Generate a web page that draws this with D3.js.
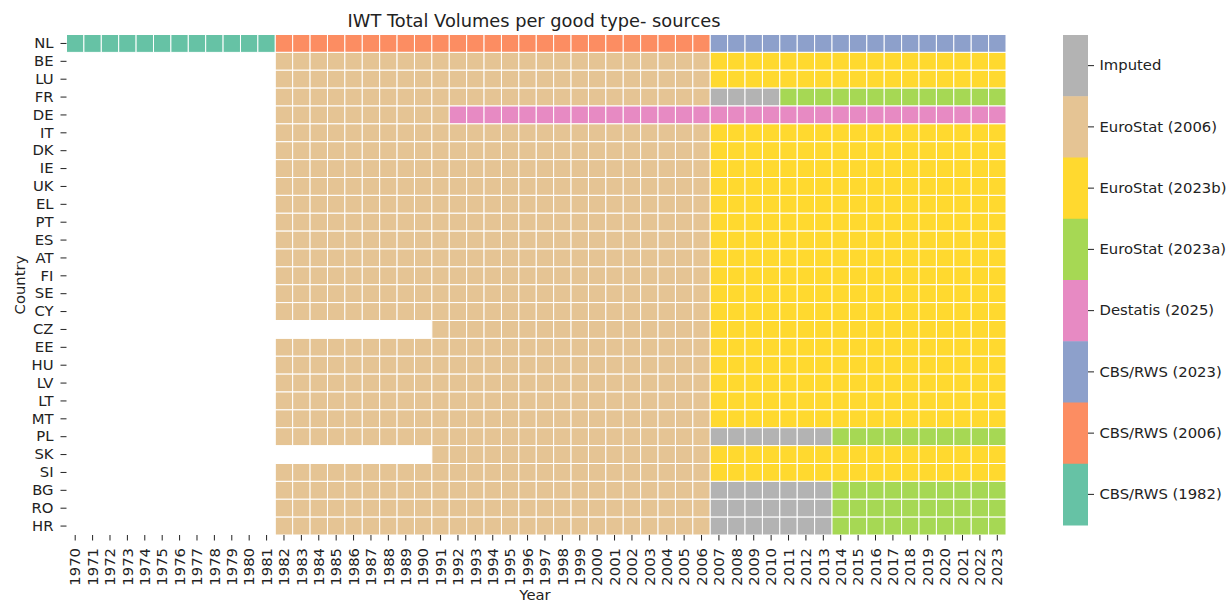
<!DOCTYPE html>
<html>
<head>
<meta charset="utf-8">
<script src="https://cdn.jsdelivr.net/npm/d3@7"></script>
<style>
  html, body { margin: 0; padding: 0; background: #fff; }
  text { font-family: "DejaVu Sans", sans-serif; fill: #222; }
</style>
</head>
<body>
<svg id="chart" width="1231" height="604"></svg>
<script>
// ---------------- DATA ----------------
const years = d3.range(1970, 2024); // 1970..2023 tick labels
const countries = ["NL","BE","LU","FR","DE","IT","DK","IE","UK","EL","PT","ES","AT","FI","SE","CY",
                   "CZ","EE","HU","LV","LT","MT","PL","SK","SI","BG","RO","HR"];
// legend order (top to bottom in colorbar)
const sources = ["Imputed","EuroStat (2006)","EuroStat (2023b)","EuroStat (2023a)",
                 "Destatis (2025)","CBS/RWS (2023)","CBS/RWS (2006)","CBS/RWS (1982)"];
const sourceColors = ["#b3b3b3","#e5c494","#ffd92f","#a6d854","#e78ac3","#8da0cb","#fc8d62","#66c2a5"];

// runs per country: [firstYear, lastYear, source]
const std = [[1982, 2006, "EuroStat (2006)"], [2007, 2023, "EuroStat (2023b)"]];
const late = [[1991, 2006, "EuroStat (2006)"], [2007, 2023, "EuroStat (2023b)"]];
const imputedThenA = [[1982, 2006, "EuroStat (2006)"], [2007, 2013, "Imputed"], [2014, 2023, "EuroStat (2023a)"]];
const rowRuns = {
  NL: [[1970, 1981, "CBS/RWS (1982)"], [1982, 2006, "CBS/RWS (2006)"], [2007, 2023, "CBS/RWS (2023)"]],
  BE: std, LU: std,
  FR: [[1982, 2006, "EuroStat (2006)"], [2007, 2010, "Imputed"], [2011, 2023, "EuroStat (2023a)"]],
  DE: [[1982, 1991, "EuroStat (2006)"], [1992, 2023, "Destatis (2025)"]],
  IT: std, DK: std, IE: std, UK: std, EL: std, PT: std, ES: std, AT: std, FI: std, SE: std, CY: std,
  CZ: late, EE: std, HU: std, LV: std, LT: std, MT: std,
  PL: imputedThenA,
  SK: late, SI: std,
  BG: imputedThenA, RO: imputedThenA, HR: imputedThenA
};

// ---------------- BUILD ----------------
const cells = [];
countries.forEach(c => {
  rowRuns[c].forEach(([a, b, s]) => {
    years.filter(y => y >= a && y <= b).forEach(y => cells.push({country: c, year: y, source: s}));
  });
});

const FS = "14.8px";
const svg = d3.select("#chart");
const x = d3.scaleBand().domain(years).range([66.5, 1006]);
const y = d3.scaleBand().domain(countries).range([34.5, 535]);
const color = d3.scaleOrdinal().domain(sources).range(sourceColors);

svg.append("g").selectAll("rect").data(cells).join("rect")
  .attr("x", d => x(d.year))
  .attr("y", d => y(d.country))
  .attr("width", x.bandwidth())
  .attr("height", y.bandwidth())
  .attr("fill", d => color(d.source))
  .attr("stroke", "#fff")
  .attr("stroke-width", 1);

// Y axis
const gy = svg.append("g").attr("transform", "translate(66.5,0)")
  .call(d3.axisLeft(y).tickSize(6).tickPadding(7));
gy.select(".domain").remove();
gy.selectAll(".tick line").attr("stroke", "#222");
gy.selectAll(".tick text").style("font-size", FS).style("font-family", "DejaVu Sans");

// X axis
const gx = svg.append("g").attr("transform", "translate(0,535)")
  .call(d3.axisBottom(x).tickSize(5.5));
gx.select(".domain").remove();
gx.selectAll(".tick line").attr("stroke", "#222");
gx.selectAll(".tick text")
  .style("font-size", FS).style("font-family", "DejaVu Sans")
  .attr("transform", "rotate(-90)")
  .attr("text-anchor", "end")
  .attr("x", -13)
  .attr("y", 0)
  .attr("dy", "0.35em");

// Title & axis labels
svg.append("text").attr("x", 534).attr("y", 27).attr("text-anchor", "middle")
  .style("font-size", "17.8px").text("IWT Total Volumes per good type- sources");
svg.append("text").attr("x", 535).attr("y", 600).attr("text-anchor", "middle")
  .style("font-size", FS).text("Year");
svg.append("text").attr("transform", "translate(25,285) rotate(-90)").attr("text-anchor", "middle")
  .style("font-size", FS).text("Country");

// Colorbar
const cb = d3.scaleBand().domain(sources).range([35, 525]);
const gcb = svg.append("g");
gcb.selectAll("rect").data(sources).join("rect")
  .attr("x", 1063).attr("y", d => cb(d)).attr("width", 25).attr("height", cb.bandwidth() + 0.5)
  .attr("fill", d => color(d));
const gca = svg.append("g").attr("transform", "translate(1088,0)")
  .call(d3.axisRight(cb).tickSize(6).tickPadding(5.5));
gca.select(".domain").remove();
gca.selectAll(".tick line").attr("stroke", "#222");
gca.selectAll(".tick text").style("font-size", FS).style("font-family", "DejaVu Sans");
</script>
</body>
</html>
